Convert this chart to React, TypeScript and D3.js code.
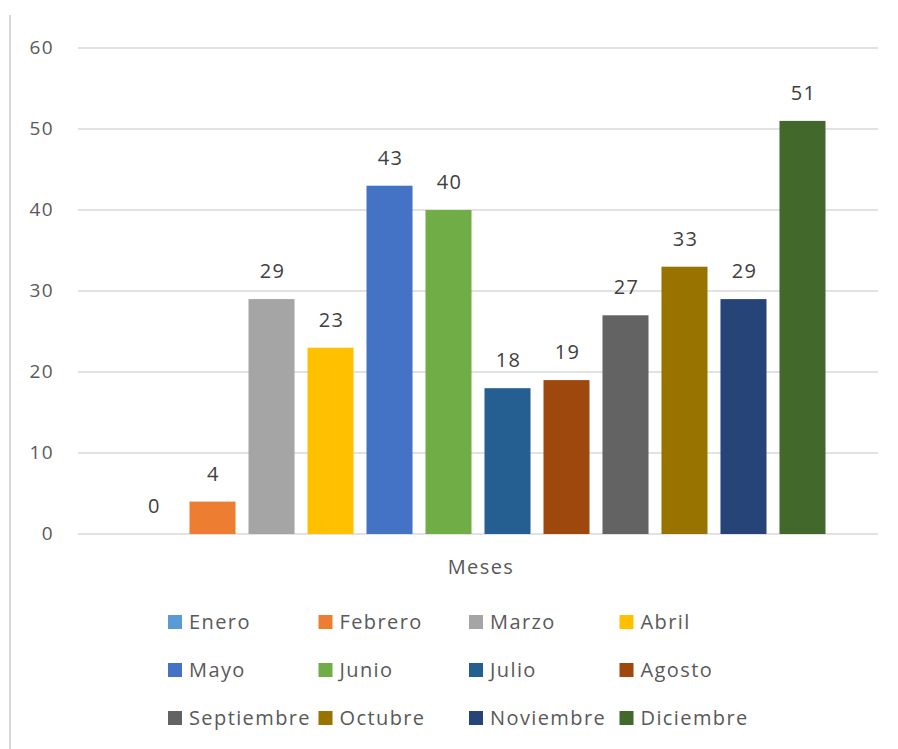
import React from 'react'
import * as d3 from 'd3'

const months = [
  'Enero', 'Febrero', 'Marzo', 'Abril', 'Mayo', 'Junio',
  'Julio', 'Agosto', 'Septiembre', 'Octubre', 'Noviembre', 'Diciembre',
]
const values = [0, 4, 29, 23, 43, 40, 18, 19, 27, 33, 29, 51]
const colors = [
  '#5B9BD5', '#ED7D31', '#A5A5A5', '#FFC000', '#4472C4', '#70AD47',
  '#255E91', '#9E480E', '#636363', '#997300', '#264478', '#43682B',
]
const yTicks = [0, 10, 20, 30, 40, 50, 60]
const axisTitle = 'Meses'

const width = 898
const height = 749
const plot = { left: 78, right: 878, top: 48, bottom: 534 }
const legend = { x: 168, y: 622, colStep: 150.5, rowStep: 48, cols: 4 }
const font = '"Open Sans", sans-serif'
const textColor = '#595959'
const spacing = 1.4

export default function App() {
  const x = d3
    .scaleBand<string>()
    .domain(months)
    .range([plot.left, plot.right])
    .paddingInner(0.22)
    .paddingOuter(0.89)

  const y = d3.scaleLinear().domain([0, 60]).range([plot.bottom, plot.top])

  return (
    <svg
      width={width}
      height={height}
      style={{ position: 'absolute', left: 0, top: 0, background: '#fff' }}
    >
      <line x1={10} x2={10} y1={15} y2={height} stroke="#d9d9d9" strokeWidth={2} />
      {yTicks.map((t) => (
        <g key={'tick-' + t}>
          <line
            x1={plot.left}
            x2={plot.right}
            y1={y(t)}
            y2={y(t)}
            stroke="#d9d9d9"
            strokeWidth={1.3}
          />
          <text
            x={54}
            y={y(t) + 6}
            textAnchor="end"
            fontFamily={font}
            fontSize={19}
            letterSpacing={spacing}
            fill={textColor}
          >
            {t}
          </text>
        </g>
      ))}
      {months.map((m, i) => (
        <g key={'bar-' + m}>
          <rect
            x={x(m)}
            y={y(values[i])}
            width={x.bandwidth()}
            height={y(0) - y(values[i])}
            fill={colors[i]}
          />
          <text
            x={(x(m) as number) + x.bandwidth() / 2 + 1}
            y={y(values[i]) - 21}
            textAnchor="middle"
            fontFamily={font}
            fontSize={20}
            letterSpacing={spacing}
            fill="#404040"
          >
            {values[i]}
          </text>
        </g>
      ))}
      <text
        x={(plot.left + plot.right) / 2 + 3}
        y={574}
        textAnchor="middle"
        fontFamily={font}
        fontSize={20}
        letterSpacing={spacing}
        fill={textColor}
      >
        {axisTitle}
      </text>
      {months.map((m, i) => {
        const lx = legend.x + (i % legend.cols) * legend.colStep
        const ly = legend.y + Math.floor(i / legend.cols) * legend.rowStep
        return (
          <g key={'legend-' + m}>
            <rect x={lx} y={ly - 7} width={14} height={14} fill={colors[i]} />
            <text
              x={lx + 21}
              y={ly + 7}
              fontFamily={font}
              fontSize={20}
              letterSpacing={spacing}
              fill={textColor}
            >
              {m}
            </text>
          </g>
        )
      })}
    </svg>
  )
}
